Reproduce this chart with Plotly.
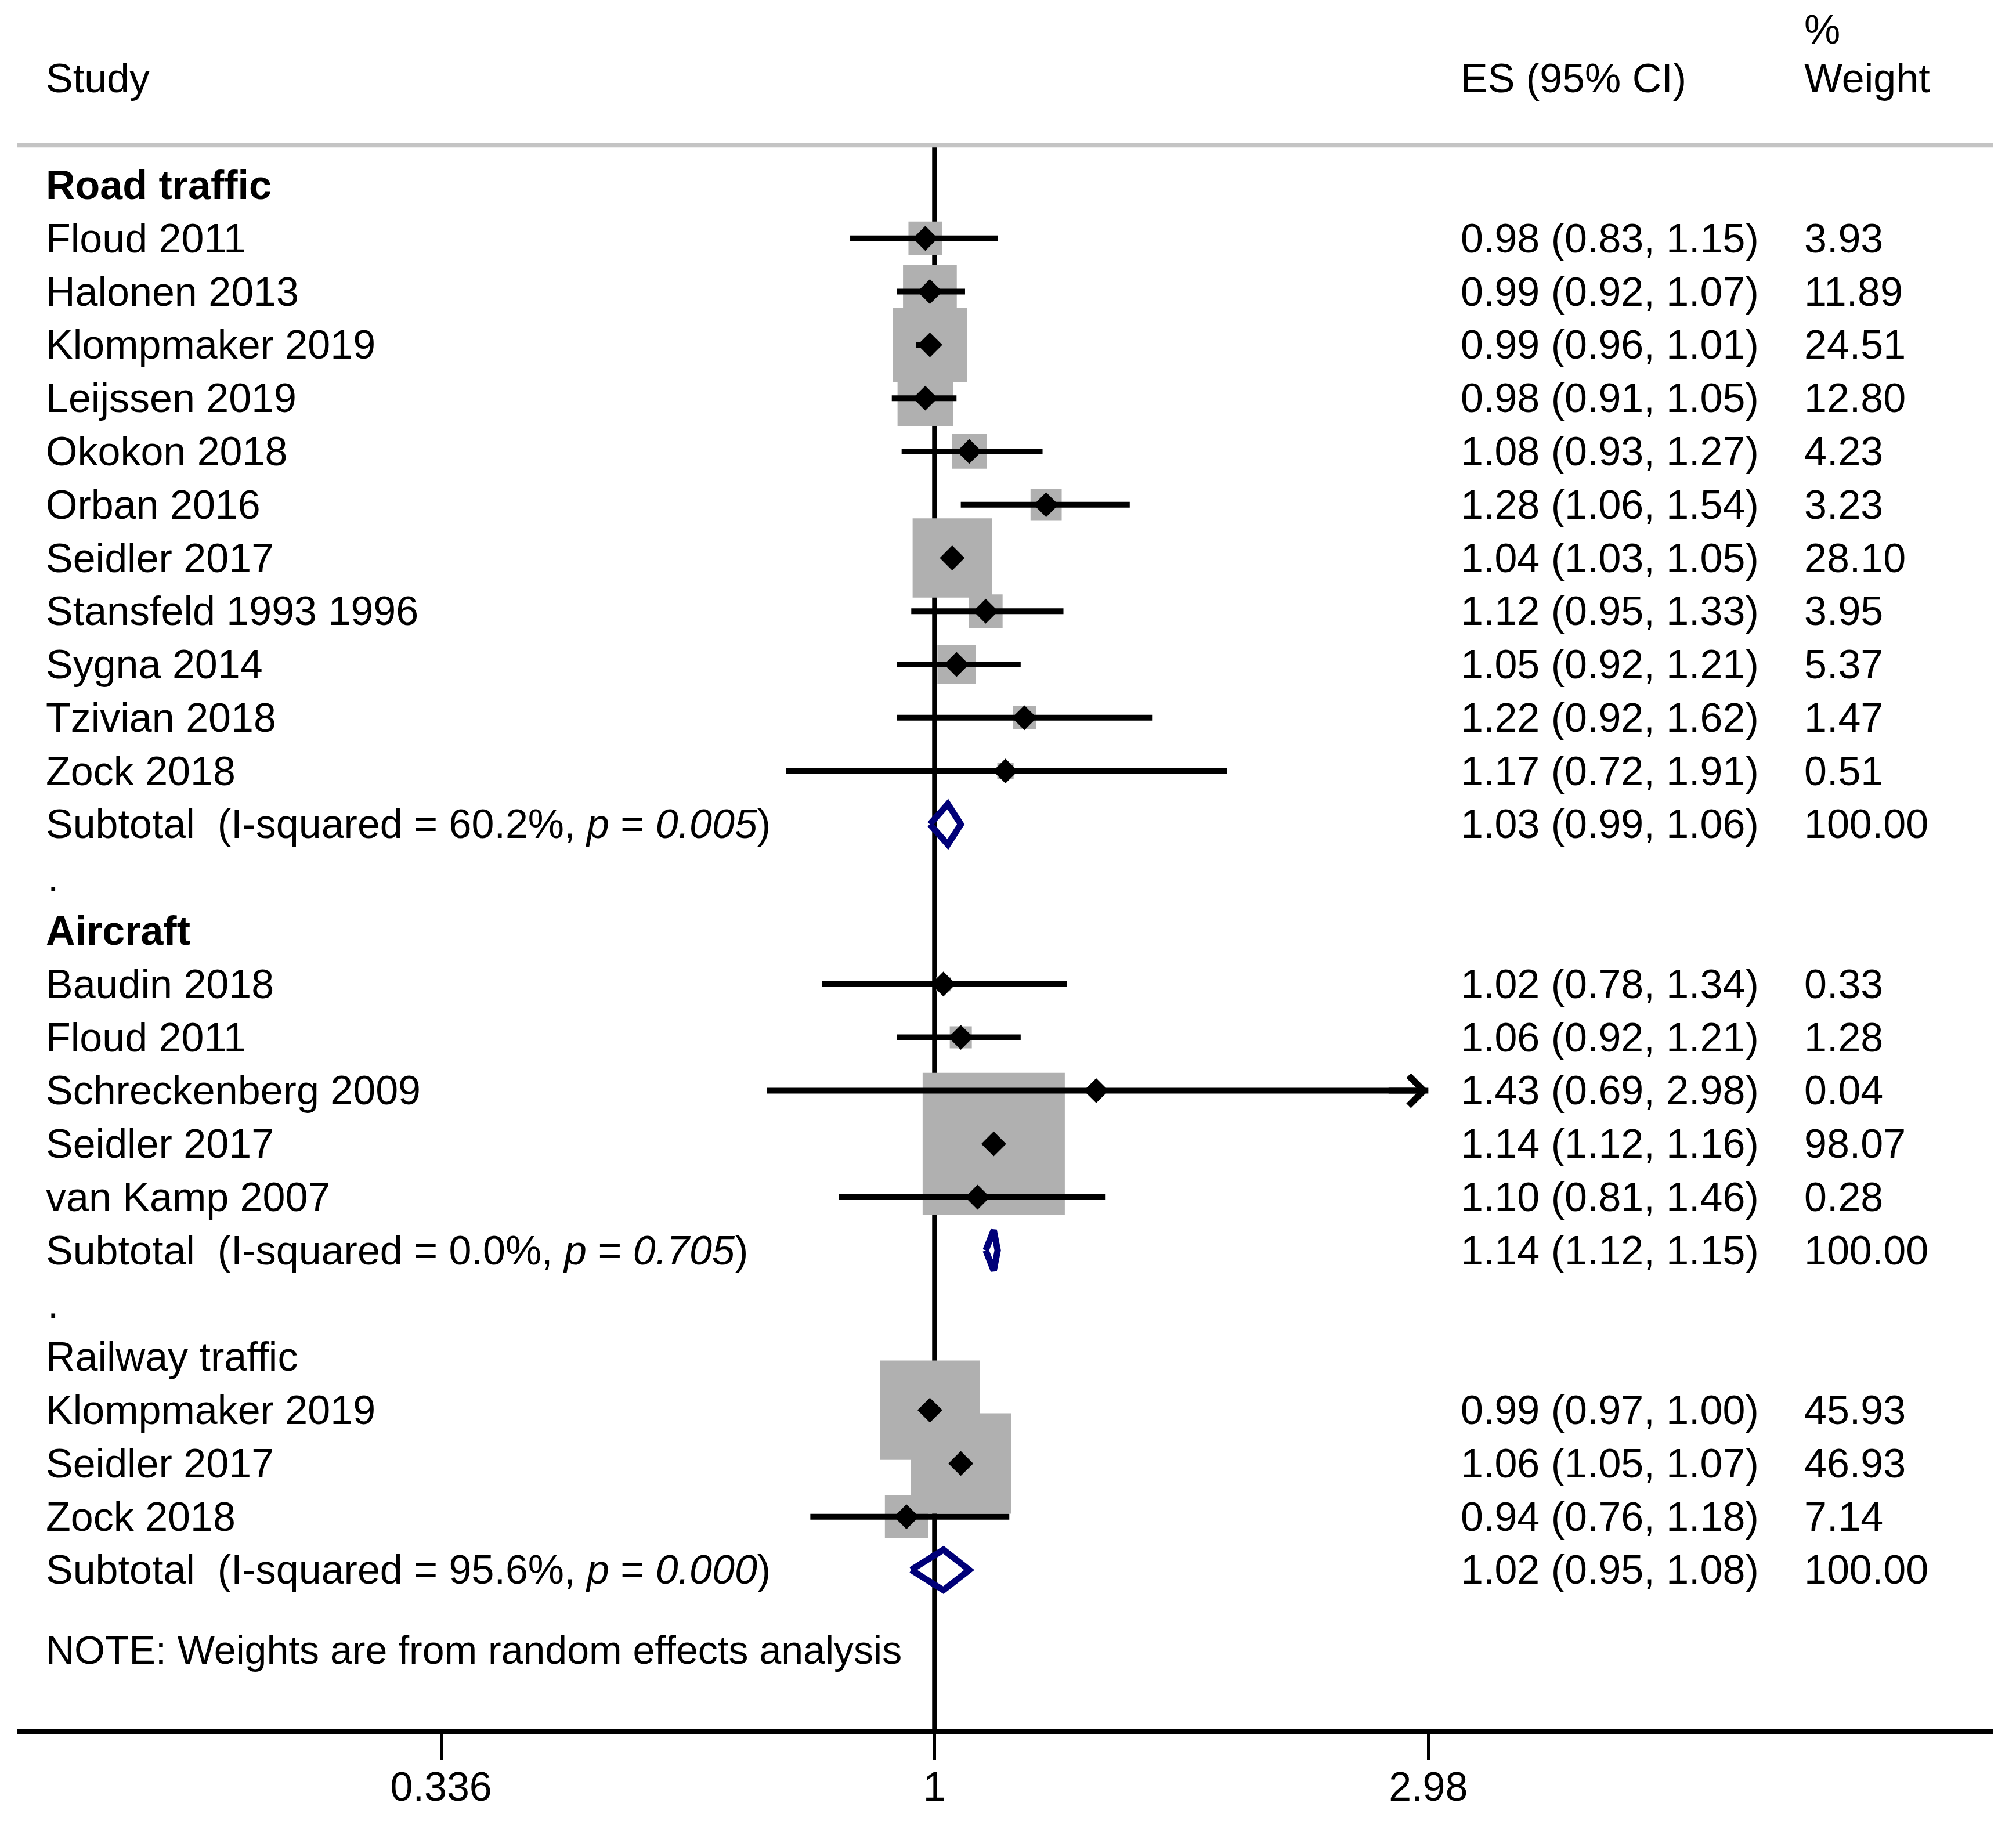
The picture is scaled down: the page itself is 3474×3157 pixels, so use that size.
import numpy as np
import plotly.graph_objects as go

# ---- data ----
road_study = ['Floud 2011', 'Halonen 2013', 'Klompmaker 2019', 'Leijssen 2019', 'Okokon 2018',
              'Orban 2016', 'Seidler 2017', 'Stansfeld 1993 1996', 'Sygna 2014', 'Tzivian 2018', 'Zock 2018']
road_es = [0.98, 0.99, 0.99, 0.98, 1.08, 1.28, 1.04, 1.12, 1.05, 1.22, 1.17]
road_lo = [0.83, 0.92, 0.96, 0.91, 0.93, 1.06, 1.03, 0.95, 0.92, 0.92, 0.72]
road_hi = [1.15, 1.07, 1.01, 1.05, 1.27, 1.54, 1.05, 1.33, 1.21, 1.62, 1.91]
road_w = [3.93, 11.89, 24.51, 12.80, 4.23, 3.23, 28.10, 3.95, 5.37, 1.47, 0.51]

air_study = ['Baudin 2018', 'Floud 2011', 'Schreckenberg 2009', 'Seidler 2017', 'van Kamp 2007']
air_es = [1.02, 1.06, 1.43, 1.14, 1.10]
air_lo = [0.78, 0.92, 0.69, 1.12, 0.81]
air_hi = [1.34, 1.21, 2.98, 1.16, 1.46]
air_w = [0.33, 1.28, 0.04, 98.07, 0.28]

rail_study = ['Klompmaker 2019', 'Seidler 2017', 'Zock 2018']
rail_es = [0.99, 1.06, 0.94]
rail_lo = [0.97, 1.05, 0.76]
rail_hi = [1.00, 1.07, 1.18]
rail_w = [45.93, 46.93, 7.14]

group_names = ['<b>Road traffic</b>', '<b>Aircraft</b>', 'Railway traffic']
sub_es = [1.03, 1.14, 1.02]
sub_lo = [0.99, 1.12, 0.95]
sub_hi = [1.06, 1.15, 1.08]
sub_i2 = ['60.2%', '0.0%', '95.6%']
sub_p = ['0.005', '0.705', '0.000']

tick_vals = [0.336, 1, 2.98]
tick_text = ['0.336', '1', '2.98']
x_min, x_max = 0.1315, 10.38

groups = [
    (road_study, road_es, road_lo, road_hi, road_w),
    (air_study, air_es, air_lo, air_hi, air_w),
    (rail_study, rail_es, rail_lo, rail_hi, rail_w),
]

FONT = 'Liberation Sans, Arial, sans-serif'
FS = 70
NAVY = '#000078'
X_LABEL, X_ES, X_W = 0.0141, 0.7300, 0.9039

annots = []


def txt(x, y, s, size=FS):
    annots.append(dict(x=x, y=y, xref='paper', yref='y', text=s, showarrow=False,
                       xanchor='left', yanchor='middle', font=dict(family=FONT, size=size, color='black')))


# headers
txt(X_LABEL, -2, 'Study')
txt(X_ES, -2, 'ES (95% CI)')
txt(X_W, -2, 'Weight')
txt(X_W, -2.92, '%')

# build rows
st_y, st_es, st_lo, st_hi, st_w = [], [], [], [], []
dia_x, dia_y = [], []
row = 0
for g, (names, es, lo, hi, w) in enumerate(groups):
    if g > 0:
        txt(X_LABEL + 0.001, row, '.')
        row += 1
    txt(X_LABEL, row, group_names[g])
    row += 1
    for i in range(len(names)):
        txt(X_LABEL, row, names[i])
        txt(X_ES, row, '%.2f (%.2f, %.2f)' % (es[i], lo[i], hi[i]))
        txt(X_W, row, '%.2f' % w[i])
        st_y.append(row)
        st_es.append(es[i])
        st_lo.append(lo[i])
        st_hi.append(hi[i])
        st_w.append(w[i])
        row += 1
    txt(X_LABEL, row, 'Subtotal  (I-squared = %s, <i>p</i> = <i>%s</i>)' % (sub_i2[g], sub_p[g]))
    txt(X_ES, row, '%.2f (%.2f, %.2f)' % (sub_es[g], sub_lo[g], sub_hi[g]))
    txt(X_W, row, '100.00')
    dia_x += [sub_lo[g], sub_es[g], sub_hi[g], sub_es[g], sub_lo[g], None]
    dia_y += [row, row - 0.38, row, row + 0.38, row, None]
    row += 1
txt(X_LABEL, row + 0.5, 'NOTE: Weights are from random effects analysis', size=68)

# CI lines
ci_x, ci_y = [], []
for y, l, h in zip(st_y, st_lo, st_hi):
    ci_x += [l, h, None]
    ci_y += [y, y, None]

box_size = [23.6 * np.sqrt(w) + 11.3 for w in st_w]

fig = go.Figure()
fig.add_trace(go.Scatter(x=[1, 1], y=[-0.75, 30], mode='lines',
                         line=dict(color='black', width=8), hoverinfo='skip'))
fig.add_trace(go.Scatter(x=st_es, y=st_y, mode='markers',
                         marker=dict(symbol='square', size=box_size, color='#b0b0b0', opacity=1,
                                     line=dict(width=0))))
fig.add_trace(go.Scatter(x=ci_x, y=ci_y, mode='lines', line=dict(color='black', width=10)))
fig.add_trace(go.Scatter(x=st_es, y=st_y, mode='markers',
                         marker=dict(symbol='diamond', size=33, color='black', line=dict(width=0))))
fig.add_trace(go.Scatter(x=dia_x, y=dia_y, mode='lines', line=dict(color=NAVY, width=11)))

# arrow for CI truncated at axis limit
for y, h in zip(st_y, st_hi):
    if h >= tick_vals[-1]:
        annots.append(dict(x=np.log10(h), y=y, xref='x', yref='y', text='', showarrow=True,
                           ax=-70, ay=0, arrowhead=4, arrowwidth=10, arrowsize=1, arrowcolor='black'))

fig.add_shape(type='line', xref='paper', yref='y', x0=0, x1=1, y0=-0.75, y1=-0.75,
              line=dict(color='#c4c4c4', width=8))

# page body has an 8px margin, so the figure is 16px smaller than the window
fig.update_layout(
    width=3458, height=3141,
    margin=dict(l=21, r=32, t=0, b=170),
    plot_bgcolor='white', paper_bgcolor='white',
    showlegend=False,
    annotations=annots,
    font=dict(family=FONT, size=FS, color='black'),
)
fig.update_xaxes(type='log', range=[np.log10(x_min), np.log10(x_max)],
                 tickvals=tick_vals, ticktext=tick_text,
                 showline=True, linewidth=9, linecolor='black',
                 ticks='outside', ticklen=45, tickwidth=5, tickcolor='black',
                 ticklabelstandoff=-14,
                 showgrid=False, zeroline=False,
                 tickfont=dict(family=FONT, size=FS, color='black'))
fig.update_yaxes(range=[28.98, -3.388], visible=False, showgrid=False, zeroline=False)

fig.write_html('out.html')
